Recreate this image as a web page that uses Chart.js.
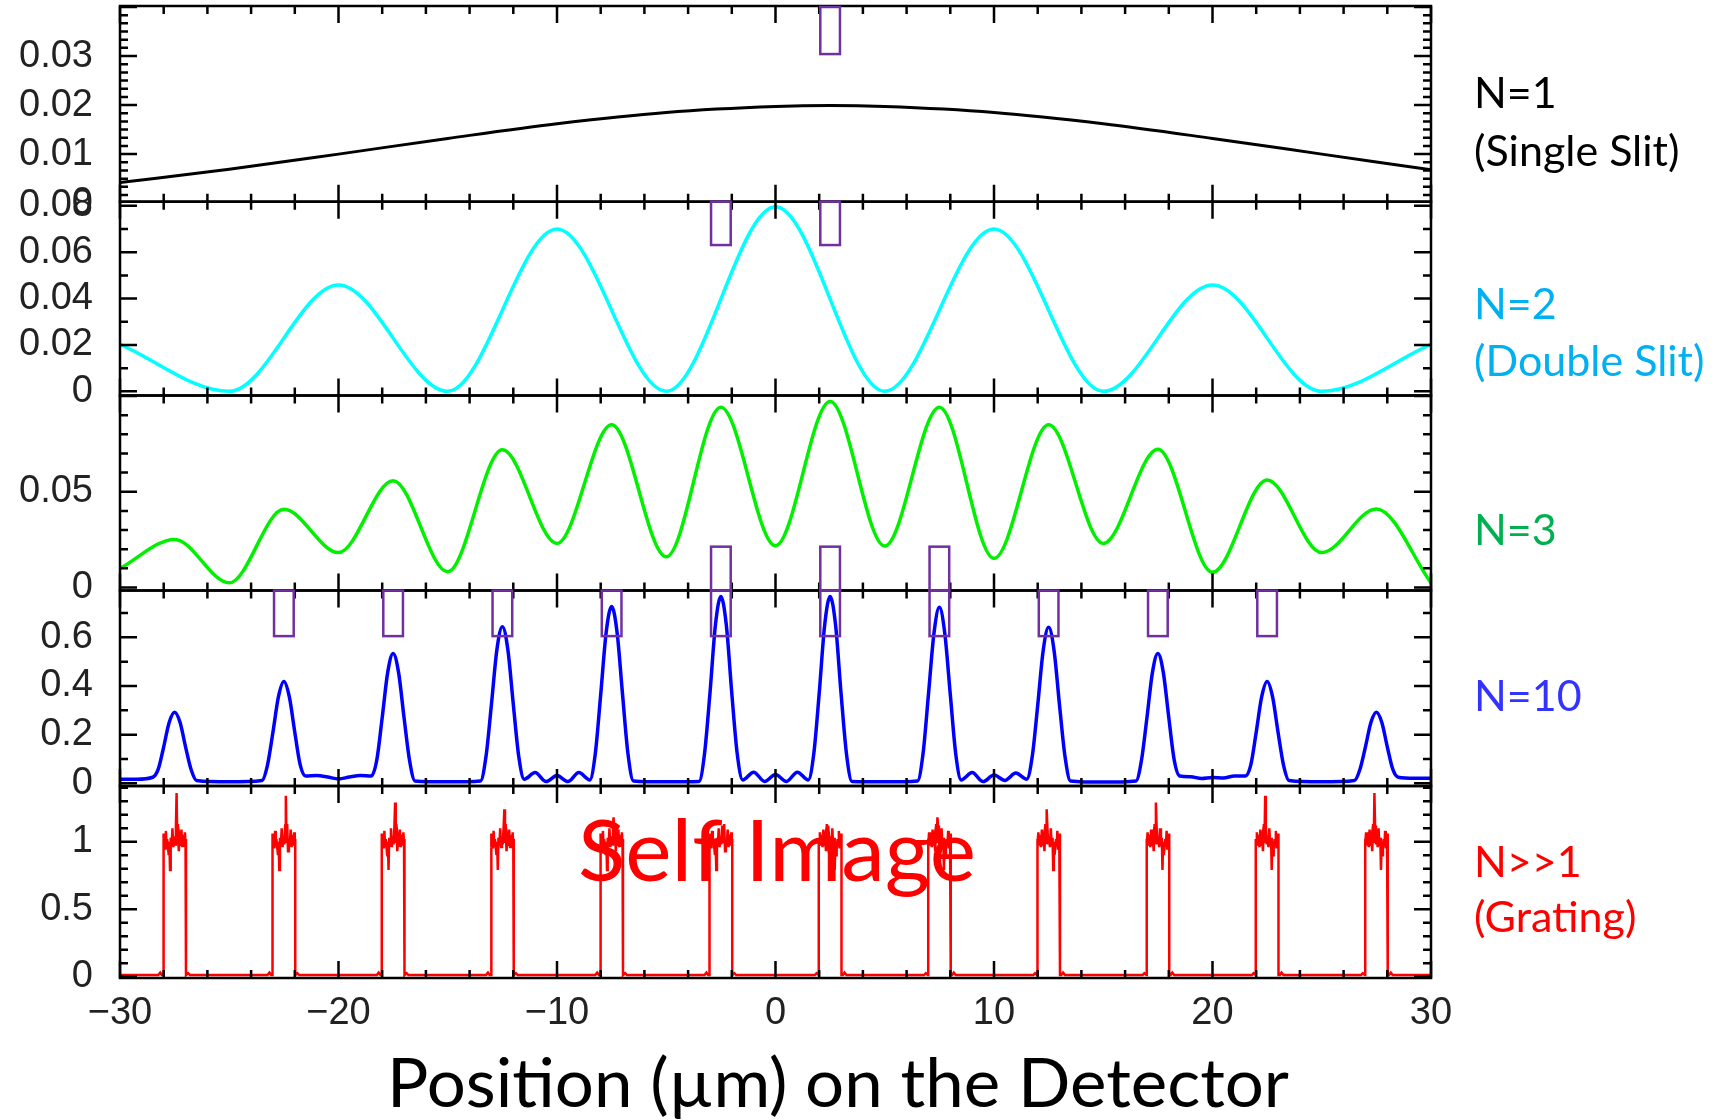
<!DOCTYPE html>
<html>
<head>
<meta charset="utf-8">
<script src="https://cdn.jsdelivr.net/npm/chart.js@4.4.1/dist/chart.umd.min.js"></script>
<style>
  html, body { margin: 0; padding: 0; background: #fff; }
  #wrap { width: 1725px; height: 1120px; }
</style>
</head>
<body>
<div id="wrap"><canvas id="chart" width="1725" height="1120"></canvas></div>
<script>
// --- values ---
const xLabelVals = [-30, -20, -10, 0, 10, 20, 30];
const xLabels = ['\u221230', '\u221220', '\u221210', '0', '10', '20', '30'];

// N=1 (single slit)
const singleX = [-30, -25, -20, -15, -10, -5, 0, 2.5, 5, 10, 15, 20, 25, 30];
const singleY = [0.0042, 0.0069, 0.0100, 0.0132, 0.0162, 0.0185, 0.0197, 0.0199, 0.0197, 0.0185, 0.0162, 0.0132, 0.0100, 0.0068];

// N=2 (double slit)
const doubleX = [-30, -25, -20, -15, -10, -5, 0, 5, 10, 15, 20, 25, 30];
const doubleY = [0.0203, 0, 0.0459, 0, 0.0700, 0, 0.0796, 0, 0.0700, 0, 0.0459, 0, 0.0203];

// N=3
const tripleX = [-30, -27.5, -25, -22.5, -20, -17.5, -15, -12.5, -10, -7.5, -5, -2.5, 0, 2.5, 5, 7.5, 10, 12.5, 15, 17.5, 20, 22.5, 25, 27.5, 30];
const tripleY = [0.0099, 0.0251, 0.0024, 0.0408, 0.0182, 0.0558, 0.0082, 0.0719, 0.0230, 0.0850, 0.0160, 0.0942, 0.0218, 0.0972, 0.0216, 0.0942, 0.0152, 0.0850, 0.0230, 0.0722, 0.0079, 0.0562, 0.0182, 0.0410, 0.0024];

// N=10
const tenX = [
  -30, -29.25,
  -28.5, -28.25, -28, -27.75, -27.5, -27.25, -27, -26.75, -26.5,
  -25,
  -23.5, -23.25, -23, -22.75, -22.5, -22.25, -22, -21.75, -21.5,
  -21, -20.5, -20, -19.5, -19,
  -18.5, -18.25, -18, -17.75, -17.5, -17.25, -17, -16.75, -16.5,
  -15,
  -13.5, -13.25, -13, -12.75, -12.5, -12.25, -12, -11.75, -11.5,
  -11, -10.5, -10, -9.5, -9,
  -8.5, -8.25, -8, -7.75, -7.5, -7.25, -7, -6.75, -6.5,
  -5,
  -3.5, -3.25, -3, -2.75, -2.5, -2.25, -2, -1.75, -1.5,
  -1, -0.5, 0, 0.5, 1,
  1.5, 1.75, 2, 2.25, 2.5, 2.75, 3, 3.25, 3.5,
  5,
  6.5, 6.75, 7, 7.25, 7.5, 7.75, 8, 8.25, 8.5,
  9, 9.5, 10, 10.5, 11,
  11.5, 11.75, 12, 12.25, 12.5, 12.75, 13, 13.25, 13.5,
  15,
  16.5, 16.75, 17, 17.25, 17.5, 17.75, 18, 18.25, 18.5,
  19, 19.5, 20, 20.5, 21,
  21.5, 21.75, 22, 22.25, 22.5, 22.75, 23, 23.25, 23.5,
  25,
  26.5, 26.75, 27, 27.25, 27.5, 27.75, 28, 28.25, 28.5,
  29.25, 30
];
const tenY = [
  0.017, 0.017,
  0.025, 0.058, 0.15, 0.25, 0.292, 0.25, 0.15, 0.058, 0.012,
  0.006,
  0.012, 0.075, 0.21, 0.355, 0.418, 0.355, 0.21, 0.075, 0.03,
  0.032, 0.026, 0.018, 0.026, 0.032,
  0.03, 0.095, 0.27, 0.455, 0.534, 0.455, 0.27, 0.095, 0.01,
  0.006,
  0.01, 0.11, 0.325, 0.55, 0.644, 0.55, 0.325, 0.11, 0.017,
  0.044, 0.007, 0.032, 0.007, 0.044,
  0.014, 0.12, 0.365, 0.62, 0.727, 0.62, 0.365, 0.12, 0.01,
  0.006,
  0.008, 0.12, 0.37, 0.65, 0.768, 0.65, 0.37, 0.12, 0.014,
  0.046, 0.008, 0.036, 0.008, 0.046,
  0.014, 0.12, 0.37, 0.65, 0.768, 0.65, 0.37, 0.12, 0.008,
  0.006,
  0.01, 0.12, 0.365, 0.615, 0.724, 0.615, 0.365, 0.12, 0.014,
  0.044, 0.007, 0.034, 0.012, 0.042,
  0.017, 0.11, 0.32, 0.545, 0.641, 0.545, 0.32, 0.11, 0.01,
  0.005,
  0.01, 0.095, 0.27, 0.455, 0.534, 0.455, 0.27, 0.095, 0.03,
  0.027, 0.02, 0.024, 0.022, 0.03,
  0.03, 0.075, 0.21, 0.355, 0.418, 0.355, 0.21, 0.075, 0.012,
  0.006,
  0.012, 0.058, 0.15, 0.25, 0.292, 0.25, 0.15, 0.058, 0.025,
  0.021, 0.021
];

// N>>1 (grating): one slit opening, repeated at every slit centre
const slitCentres = [-27.5, -22.5, -17.5, -12.5, -7.5, -2.5, 2.5, 7.5, 12.5, 17.5, 22.5, 27.5];
const spikeHeights = [1.36, 1.34, 1.29, 1.24, 1.18, 1.12, 1.12, 1.18, 1.24, 1.29, 1.34, 1.36];
const slitOffsets = [-0.75, -0.66, -0.58, -0.52, -0.52, -0.49, -0.46, -0.43, -0.40, -0.37,
  -0.34, -0.30, -0.27, -0.24, -0.21, -0.18, -0.14, -0.10, -0.06, -0.02,
  0.02, 0.06, 0.09, 0.12, 0.15, 0.19, 0.23, 0.27, 0.31, 0.35,
  0.39, 0.43, 0.47, 0.50, 0.52, 0.52, 0.62, 0.70];
const slitValues = [0.012, 0.03, 0.012, 0.012, 1.06, 0.96, 1.04, 0.95, 1.08, 0.97,
  1.02, 0.95, 0.90, 1.00, 0.79, 1.03, 0.97, 1.10, 0.96, 1.04,
  0.98, 1.12, 1.36, 0.99, 1.13, 0.93, 1.02, 0.97, 1.09, 0.96,
  1.05, 0.97, 1.07, 0.98, 1.02, 0.012, 0.026, 0.012];
const gratingBase = 0.012;

// y tick labels per panel
const p1Ticks = [0, 0.01, 0.02, 0.03];
const p1Labels = ['0', '0.01', '0.02', '0.03'];
const p2Ticks = [0, 0.02, 0.04, 0.06, 0.08];
const p2Labels = ['0', '0.02', '0.04', '0.06', '0.08'];
const p3Ticks = [0, 0.05];
const p3Labels = ['0', '0.05'];
const p4Ticks = [0, 0.2, 0.4, 0.6];
const p4Labels = ['0', '0.2', '0.4', '0.6'];
const p5Ticks = [0, 0.5, 1];
const p5Labels = ['0', '0.5', '1'];

// purple marker boxes (x centre in um, top / bottom in panel units)
const markerBoxes = [
  { axis: 'y1', x: 2.5, top: 0.0400, bottom: 0.0304 },
  { axis: 'y2', x: -2.5, top: 0.0818, bottom: 0.0631 },
  { axis: 'y2', x: 2.5, top: 0.0818, bottom: 0.0631 },
  { axis: 'y3', x: -2.5, top: 0.0213, bottom: -0.0016 },
  { axis: 'y3', x: 2.5, top: 0.0213, bottom: -0.0016 },
  { axis: 'y3', x: 7.5, top: 0.0213, bottom: -0.0016 },
  { axis: 'y4', x: -22.5, top: 0.792, bottom: 0.605 },
  { axis: 'y4', x: -17.5, top: 0.792, bottom: 0.605 },
  { axis: 'y4', x: -12.5, top: 0.792, bottom: 0.605 },
  { axis: 'y4', x: -7.5, top: 0.792, bottom: 0.605 },
  { axis: 'y4', x: -2.5, top: 0.792, bottom: 0.605 },
  { axis: 'y4', x: 2.5, top: 0.792, bottom: 0.605 },
  { axis: 'y4', x: 7.5, top: 0.792, bottom: 0.605 },
  { axis: 'y4', x: 12.5, top: 0.792, bottom: 0.605 },
  { axis: 'y4', x: 17.5, top: 0.792, bottom: 0.605 },
  { axis: 'y4', x: 22.5, top: 0.792, bottom: 0.605 }
];

// --- build datasets ---
const pairs = (xs, ys) => xs.map((x, i) => ({ x, y: ys[i] }));

const spikeIdx = slitValues.indexOf(Math.max(...slitValues));
const gratingPts = [{ x: -30, y: gratingBase }];
slitCentres.forEach((c, i) => {
  // openings right of centre are mirror images of the left ones
  const flip = c > 0 ? -1 : 1;
  const order = slitOffsets.map((_, k) => k);
  if (flip < 0) order.reverse();
  order.forEach(k => {
    gratingPts.push({ x: c + flip * slitOffsets[k], y: k === spikeIdx ? spikeHeights[i] : slitValues[k] });
  });
});
gratingPts.push({ x: 30, y: gratingBase });

const panelTicks = {
  y1: { major: 0.01, ratio: 6 },
  y2: { major: 0.02, ratio: 2 },
  y3: { major: 0.05, ratio: 5 },
  y4: { major: 0.2, ratio: 2 },
  y5: { major: 0.5, ratio: 5 }
};

const sideLabels = [
  { text: 'N=1', color: '#000000', y: 108 },
  { text: '(Single Slit)', color: '#000000', y: 166 },
  { text: 'N=2', color: '#00B0F0', y: 319 },
  { text: '(Double Slit)', color: '#00B0F0', y: 376 },
  { text: 'N=3', color: '#00B050', y: 545 },
  { text: 'N=10', color: '#3333FF', y: 711 },
  { text: 'N>>1', color: '#FF0000', y: 877 },
  { text: '(Grating)', color: '#FF0000', y: 932 }
];

const tickFont = { family: 'Liberation Sans', size: 38 };

function noPad(a) {
  a.paddingTop = 0; a.paddingBottom = 0; a.paddingLeft = 0; a.paddingRight = 0;
}

function panelAxis(min, max, stackWeight, order, vals, labels) {
  return {
    type: 'linear', position: 'left', stack: 'panels', stackWeight, weight: order,
    min, max, offset: false,
    grid: { display: false, drawTicks: false },
    border: { display: false },
    afterBuildTicks: a => { a.ticks = vals.map(v => ({ value: v })); },
    afterFit: a => { a.width = 120; noPad(a); },
    ticks: { autoSkip: false, padding: 27, color: '#222', font: tickFont, callback: (v, i) => labels[i] }
  };
}

// frame, inward ticks, marker boxes and texts
const framePlugin = {
  id: 'frame',
  afterDatasetsDraw(chart) {
    const { ctx, chartArea: ca, scales } = chart;
    const xs = scales.x;
    ctx.save();
    ctx.strokeStyle = '#000';
    ctx.lineWidth = 2.5;
    ['y1', 'y2', 'y3', 'y4', 'y5'].forEach(id => {
      const s = scales[id];
      const top = s.top, bot = s.bottom;
      ctx.strokeRect(ca.left, top, ca.right - ca.left, bot - top);
      ctx.beginPath();
      for (let v = -30; v <= 30; v += 2) {
        const px = xs.getPixelForValue(v);
        const len = v % 10 === 0 ? 17 : 8;
        ctx.moveTo(px, top); ctx.lineTo(px, top + len);
        ctx.moveTo(px, bot); ctx.lineTo(px, bot - len);
      }
      const t = panelTicks[id];
      const minor = t.major / t.ratio;
      for (let k = Math.ceil(s.min / minor - 1e-6); k * minor <= s.max + 1e-9; k++) {
        const py = s.getPixelForValue(k * minor);
        const len = k % t.ratio === 0 ? 17 : 8;
        ctx.moveTo(ca.left, py); ctx.lineTo(ca.left + len, py);
        ctx.moveTo(ca.right, py); ctx.lineTo(ca.right - len, py);
      }
      ctx.stroke();
    });

    ctx.strokeStyle = '#7030A0';
    ctx.lineWidth = 2.5;
    markerBoxes.forEach(b => {
      const s = scales[b.axis];
      const x0 = xs.getPixelForValue(b.x - 0.45), x1 = xs.getPixelForValue(b.x + 0.45);
      const y0 = s.getPixelForValue(b.top), y1 = s.getPixelForValue(b.bottom);
      ctx.strokeRect(x0, y0, x1 - x0, y1 - y0);
    });

    ctx.textBaseline = 'alphabetic';
    ctx.textAlign = 'left';
    ctx.font = '43px Lato';
    sideLabels.forEach(l => {
      ctx.fillStyle = l.color;
      ctx.fillText(l.text, ca.right + 43, l.y);
    });

    // "Self Image", squeezed like the original
    ctx.font = '86px Lato';
    ctx.fillStyle = '#FF0000';
    const si = 'Self Image';
    let w = ctx.measureText(si).width;
    ctx.save();
    ctx.translate(578, 881);
    ctx.scale(398 / w, 1);
    ctx.fillText(si, 0, 0);
    ctx.restore();

    // axis title
    ctx.font = '67px Lato';
    ctx.fillStyle = '#000';
    const tt = 'Position (\u00b5m) on the Detector';
    w = ctx.measureText(tt).width;
    ctx.save();
    ctx.translate(387, 1107);
    ctx.scale(902 / w, 1);
    ctx.fillText(tt, 0, 0);
    ctx.restore();
    ctx.restore();
  }
};

new Chart(document.getElementById('chart'), {
  type: 'line',
  data: {
    datasets: [
      { data: pairs(singleX, singleY), yAxisID: 'y1', borderColor: '#000000', borderWidth: 3, cubicInterpolationMode: 'monotone' },
      { data: pairs(doubleX, doubleY), yAxisID: 'y2', borderColor: '#00FFFF', borderWidth: 3.5, cubicInterpolationMode: 'monotone' },
      { data: pairs(tripleX, tripleY), yAxisID: 'y3', borderColor: '#00F000', borderWidth: 3.5, cubicInterpolationMode: 'monotone' },
      { data: pairs(tenX, tenY), yAxisID: 'y4', borderColor: '#0000FF', borderWidth: 3.5, cubicInterpolationMode: 'monotone' },
      { data: gratingPts, yAxisID: 'y5', borderColor: '#FF0000', borderWidth: 2.5, tension: 0 }
    ]
  },
  options: {
    responsive: false,
    animation: false,
    devicePixelRatio: 1,
    events: [],
    layout: { padding: { top: 6, right: 294, left: 0, bottom: 0 } },
    elements: { point: { radius: 0 }, line: { fill: false } },
    plugins: { legend: { display: false }, tooltip: { enabled: false }, title: { display: false } },
    scales: {
      x: {
        type: 'linear', position: 'bottom', min: -30, max: 30,
        grid: { display: false, drawTicks: false },
        border: { display: false },
        afterBuildTicks: a => { a.ticks = xLabelVals.map(v => ({ value: v })); },
        afterFit: a => { a.height = 142; noPad(a); },
        ticks: { autoSkip: false, maxRotation: 0, padding: 13, color: '#222', font: tickFont, callback: (v, i) => xLabels[i] }
      },
      y1: panelAxis(0.0003, 0.0402, 195.7, 5, p1Ticks, p1Labels),
      y2: panelAxis(-0.0018, 0.0818, 193.8, 4, p2Ticks, p2Labels),
      y3: panelAxis(-0.0016, 0.1003, 195.0, 3, p3Ticks, p3Labels),
      y4: panelAxis(-0.011, 0.7925, 195.5, 2, p4Ticks, p4Labels),
      y5: panelAxis(-0.0096, 1.4126, 192.0, 1, p5Ticks, p5Labels)
    }
  },
  plugins: [framePlugin]
});
</script>
</body>
</html>
